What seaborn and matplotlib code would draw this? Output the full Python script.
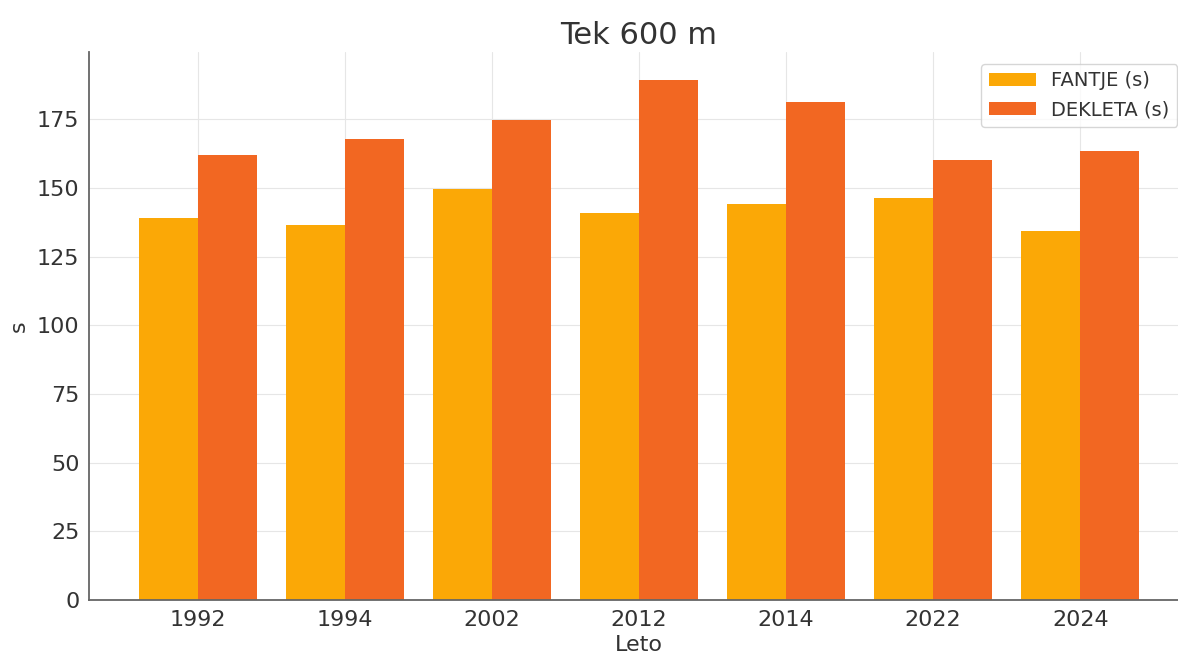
import pandas as pd
import matplotlib
matplotlib.use('Agg')
import matplotlib.pyplot as plt
import seaborn as sns

# podatki
leta = ['1992', '1994', '2002', '2012', '2014', '2022', '2024']
fantje = [139.2, 136.7, 149.8, 141.0, 144.3, 146.4, 134.3]
dekleta = [162.0, 168.0, 174.7, 189.3, 181.3, 160.2, 163.4]
serije = ['FANTJE (s)', 'DEKLETA (s)']
barve = ['#FBA806', '#F26722']

df = pd.DataFrame({
    'Leto': leta * 2,
    'cas': fantje + dekleta,
    'spol': [serije[0]] * len(leta) + [serije[1]] * len(leta),
})

sns.set_theme(style='whitegrid')
plt.rcParams['font.family'] = ['DejaVu Sans']
text_col = '#333333'

fig = plt.figure(figsize=(11.78, 6.59), dpi=100)
ax = fig.add_axes([0.0756, 0.0895, 0.9338, 0.8316])

sns.barplot(data=df, x='Leto', y='cas', hue='spol', palette=barve,
            saturation=1, width=0.8, linewidth=0, edgecolor='none', ax=ax)

ax.set_xlim(-0.74, 6.74)
ax.set_ylim(0, 199.5)
ax.set_yticks([0, 25, 50, 75, 100, 125, 150, 175])

ax.set_title('Tek 600 m', fontsize=22, color=text_col, pad=6)
ax.set_xlabel('Leto', fontsize=16, color=text_col, labelpad=4)
ax.set_ylabel('s', fontsize=16, color=text_col, labelpad=6)
ax.tick_params(axis='both', labelsize=16, colors=text_col, length=4,
               width=1, direction='out', pad=3)
ax.tick_params(axis='both', color='#777777')

ax.grid(True, color='#e6e6e6', linewidth=0.8)
ax.set_axisbelow(True)
for side in ['top', 'right']:
    ax.spines[side].set_visible(False)
for side in ['left', 'bottom']:
    ax.spines[side].set_visible(True)
    ax.spines[side].set_color('#666666')
    ax.spines[side].set_linewidth(1.3)

handles, labels = ax.get_legend_handles_labels()
leg = ax.legend(handles, labels, loc='upper right', fontsize=14,
                frameon=True, borderaxespad=0.6, handlelength=2.4)
leg.get_frame().set_edgecolor('#cccccc')
for t in leg.get_texts():
    t.set_color(text_col)

fig.savefig('out.png', dpi=100)
